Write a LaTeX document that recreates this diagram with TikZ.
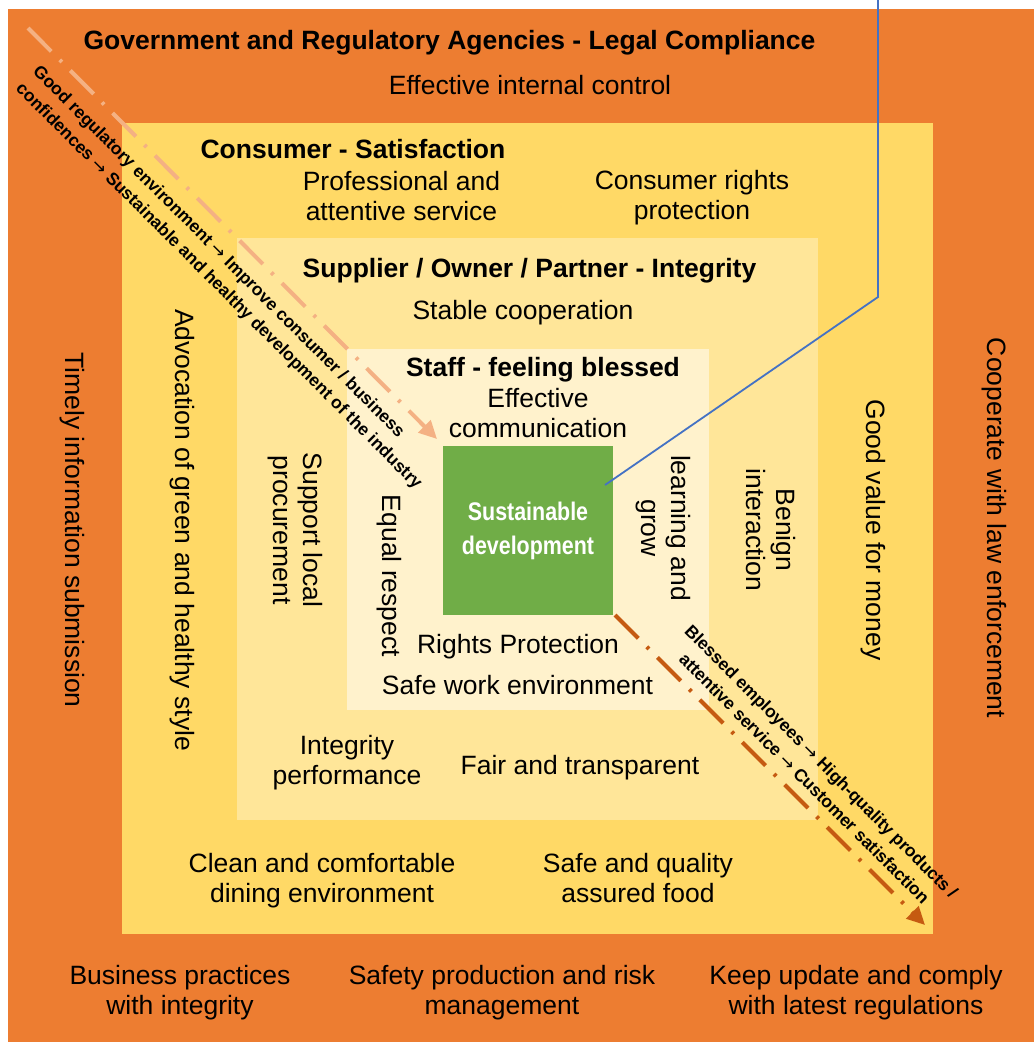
\documentclass[tikz,border=0pt]{standalone}
\usepackage{fontspec}
\setmainfont{Liberation Sans}
\newfontfamily\narrowfont[FakeStretch=0.84]{Liberation Sans}
\newfontfamily\arrowfont{DejaVu Sans}
\newcommand\flowarrow{{\arrowfont\mdseries →}}
\usetikzlibrary{arrows.meta}
\definecolor{govorange}{HTML}{ED7D31}
\definecolor{consyellow}{HTML}{FFD966}
\definecolor{supyellow}{HTML}{FFE699}
\definecolor{staffcream}{HTML}{FFF2CC}
\definecolor{coregreen}{HTML}{70AD47}
\definecolor{leaderblue}{HTML}{4472C4}
\definecolor{lightarrow}{HTML}{F4B183}
\definecolor{darkarrow}{HTML}{C55A11}
\begin{document}
\begin{tikzpicture}[x=1pt,y=-1pt,
  ring/.style={draw=none, inner sep=0, outer sep=0, rectangle, anchor=north west},
  lbl/.style={font=\fontsize{26.5}{30}\selectfont, align=center, inner sep=0},
  hdr/.style={font=\fontsize{26.5}{30}\selectfont\bfseries, align=center, inner sep=0},
  vlbl/.style={lbl, rotate=-90},
  flowtext/.style={font=\fontsize{17.5}{24}\selectfont\bfseries, rotate=-45, inner sep=0},
  flowline/.style={line width=4pt, dash pattern=on 33pt off 12pt on 3pt off 12pt, -{Triangle[length=18pt,width=17pt]}},
]
\useasboundingbox (0,0) rectangle (1034,1042);
\fill[white] (0,0) rectangle (1034,1042);
% nested rings
\node[ring, fill=govorange, minimum width=1026, minimum height=1033] (gov) at (8,9) {};
\node[ring, fill=consyellow, minimum width=811, minimum height=811] (cons) at (122,123) {};
\node[ring, fill=supyellow, minimum width=581, minimum height=582] (sup) at (237,238) {};
\node[ring, fill=staffcream, minimum width=362, minimum height=361] (staff) at (347,349) {};
\node[draw=none, fill=coregreen, inner sep=0, minimum width=170, minimum height=169, text=white, align=center,
      font={\fontsize{25.5}{34}\narrowfont\bfseries}] (core) at (528,530.5) {Sustainable\\development};
% leader line
\coordinate (leadtop) at (878,0);
\coordinate (leadbend) at (878,297);
\coordinate (leadend) at (605,485);
\draw[leaderblue, line width=1.8pt] (leadtop) -- (leadbend) -- (leadend);
% flow arrows
\coordinate (f1s) at (28,28);
\coordinate (f1e) at (437,439);
\draw[flowline, lightarrow] (f1s) -- (f1e);
\coordinate (f2s) at (615,615);
\coordinate (f2e) at (925,925);
\draw[flowline, darkarrow] (f2s) -- (f2e);
% government ring
\node[hdr] (govtitle) at (449.5,43) {Government and Regulatory Agencies - Legal Compliance};
\node[lbl] (govtop) at (530,85) {Effective internal control};
\node[vlbl] (govleft) at (72,530) {Timely information submission};
\node[vlbl] (govright) at (994,528) {Cooperate with law enforcement};
\node[lbl] (govb1) at (180,993) {Business practices\\with integrity};
\node[lbl] (govb2) at (502,993) {Safety production and risk\\management};
\node[lbl] (govb3) at (856,993) {Keep update and comply\\with latest regulations};
% consumer ring
\node[hdr] (constitle) at (353,149) {Consumer - Satisfaction};
\node[lbl] (cons1) at (401.5,196) {Professional and\\attentive service};
\node[lbl] (cons2) at (692,198) {Consumer rights\\protection};
\node[vlbl] (cons3) at (182,530) {Advocation of green and healthy style};
\node[vlbl] (cons4) at (873,530) {Good value for money};
\node[lbl] (cons5) at (322,881) {Clean and comfortable\\dining environment};
\node[lbl] (cons6) at (638,878) {Safe and quality\\assured food};
% supplier ring
\node[hdr] (suptitle) at (529.5,271) {Supplier / Owner / Partner - Integrity};
\node[lbl] (sup1) at (523,313) {Stable cooperation};
\node[vlbl] (sup2) at (295.5,530) {Support local\\procurement};
\node[vlbl] (sup3) at (771,530) {Benign\\interaction};
\node[lbl] (sup4) at (347,763) {Integrity\\performance};
\node[lbl] (sup5) at (580,768) {Fair and transparent};
% staff ring
\node[hdr] (stafftitle) at (543,370) {Staff - feeling blessed};
\node[lbl] (staff1) at (538,413) {Effective\\communication};
\node[vlbl] (staff2) at (663,528) {learning and\\grow};
\node[vlbl] (staff3) at (389,576) {Equal respect};
\node[lbl] (staff4) at (518,647) {Rights Protection};
\node[lbl] (staff5) at (517.5,685) {Safe work environment};
% flow texts
\node[flowtext, align=left] (flow1) at (227,278) {Good regulatory environment \flowarrow{} Improve consumer / business\\confidences \flowarrow{} Sustainable and healthy development of the industry};
\node[flowtext, align=center] (flow2) at (813,770) {Blessed employees \flowarrow{} High-quality products /\\attentive service \flowarrow{} Customer satisfaction};
\end{tikzpicture}
\end{document}
